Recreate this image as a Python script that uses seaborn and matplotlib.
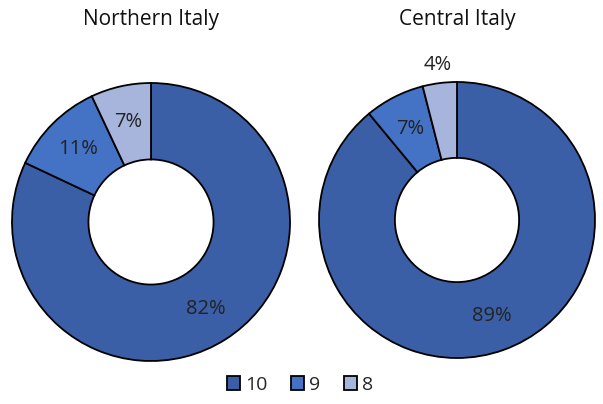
import numpy as np
import seaborn as sns
import matplotlib.pyplot as plt
from matplotlib.patches import Patch

sns.set_theme(style='white')
plt.rcParams['font.family'] = ['Open Sans', 'DejaVu Sans']

# 데이터
grades = ['10', '9', '8']
regions = ['Northern Italy', 'Central Italy']
northern = [82, 11, 7]
central = [89, 7, 4]
colors = ['#3A5FA6', '#4472C4', '#A7B5DD']

fig = plt.figure(figsize=(6.03, 4.04), dpi=100)
ax1 = fig.add_axes([12 / 603, 43 / 404, 278 / 603, 278 / 404])
ax2 = fig.add_axes([319 / 603, 46 / 404, 276 / 603, 276 / 404])

for ax, title, values in zip([ax1, ax2], regions, [northern, central]):
    wedges, texts, autotexts = ax.pie(
        values, colors=colors, startangle=90, counterclock=False,
        autopct='%.0f%%', pctdistance=0.74, radius=1,
        wedgeprops=dict(width=0.55, edgecolor='black', linewidth=1.3),
        textprops=dict(fontsize=14.5, color='#222222'))
    # 작은 조각의 라벨은 바깥쪽으로
    for w, t, v in zip(wedges, autotexts, values):
        if v < 5:
            ang = np.deg2rad((w.theta1 + w.theta2) / 2)
            t.set_position((1.13 * np.cos(ang), 1.13 * np.sin(ang)))
    ax.set_xlim(-1, 1)
    ax.set_ylim(-1, 1)
    ax.set_aspect('equal')
    ax.axis('off')
    pos = ax.get_position()
    fig.text((pos.x0 + pos.x1) / 2, 1 - 19 / 404, title,
             ha='center', va='center', fontsize=15, color='#111111')

handles = [Patch(facecolor=c, edgecolor='black', linewidth=1.3, label=g)
           for c, g in zip(colors, grades)]
fig.legend(handles=handles, loc='center', bbox_to_anchor=(300 / 603, 1 - 385 / 404),
           ncol=3, frameon=False, fontsize=14, handlelength=0.7, handleheight=0.7,
           handletextpad=0.25, columnspacing=1.2)

plt.savefig('out.png', dpi=100)
